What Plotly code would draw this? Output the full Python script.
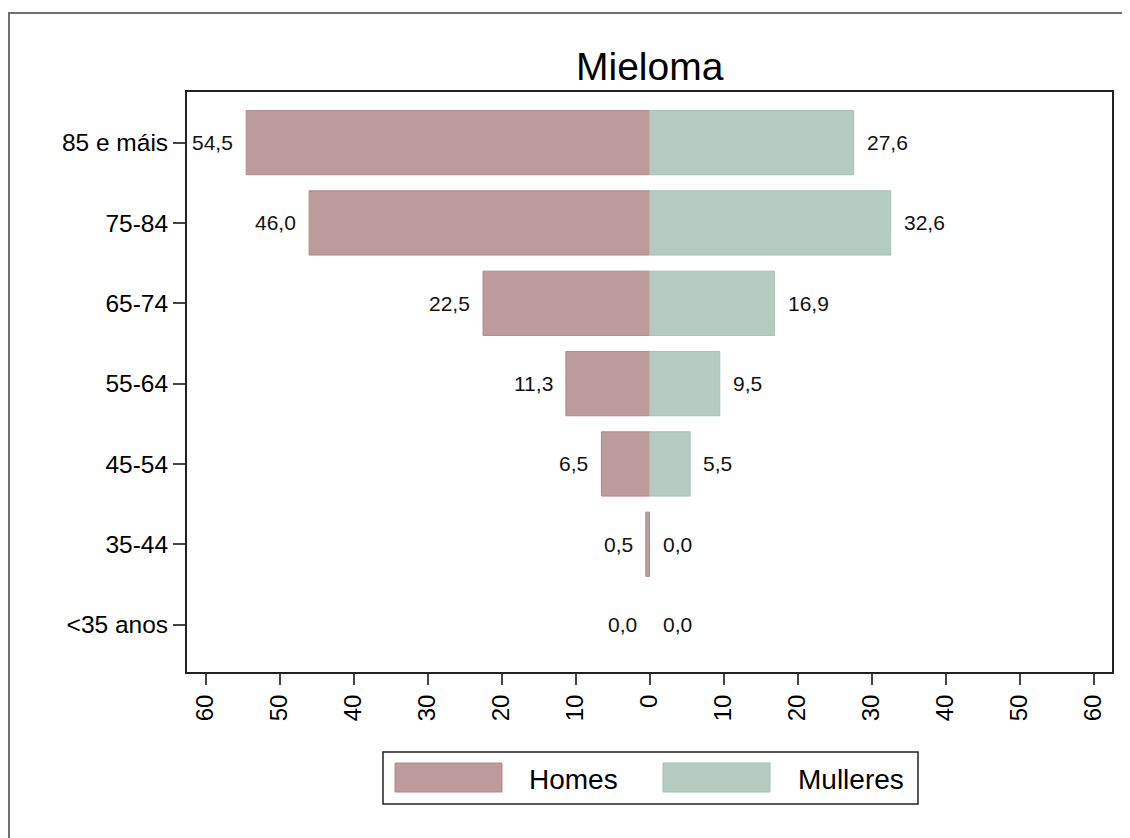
import plotly.graph_objects as go

# ---- data ----
age_groups = ["<35 anos", "35-44", "45-54", "55-64", "65-74", "75-84", "85 e máis"]
homes = [0.0, 0.5, 6.5, 11.3, 22.5, 46.0, 54.5]
mulleres = [0.0, 0.0, 5.5, 9.5, 16.9, 32.6, 27.6]
tick_values = [-60, -50, -40, -30, -20, -10, 0, 10, 20, 30, 40, 50, 60]
title_text = "Mieloma"
series_names = ["Homes", "Mulleres"]

# ---- style ----
OFF = 8  # page body margin
W, H = 1130 - OFF, 838 - OFF
# plot-area edges in page pixels
L, R, T, B = 187, 1112, 92, 672
FONT = "Liberation Sans, Arial, sans-serif"
C_H, C_H_LINE = "#BD9A9C", "#B08A8D"
C_M, C_M_LINE = "#B4CBC2", "#A7C0B5"


def px(x):
    return (x - L) / (R - L)


def py(y):
    return (B - y) / (B - T)


def fmt(v):
    return f"{v:.1f}".replace(".", ",")


fig = go.Figure()
fig.add_trace(go.Bar(
    y=age_groups, x=[-v for v in homes], orientation="h", name=series_names[0],
    marker=dict(color=C_H, line=dict(color=C_H_LINE, width=[1 if v > 0 else 0 for v in homes])),
    width=0.8,
    customdata=homes, hovertemplate="%{y}: %{customdata}<extra>Homes</extra>",
))
fig.add_trace(go.Bar(
    y=age_groups, x=mulleres, orientation="h", name=series_names[1],
    marker=dict(color=C_M, line=dict(color=C_M_LINE, width=[1 if v > 0 else 0 for v in mulleres])),
    width=0.8,
    hovertemplate="%{y}: %{x}<extra>Mulleres</extra>",
))

annotations = []
for cat, vh, vm in zip(age_groups, homes, mulleres):
    annotations.append(dict(x=-vh, y=cat, xref="x", yref="y", text=fmt(vh),
                            showarrow=False, xanchor="right", xshift=-11,
                            font=dict(family=FONT, size=21, color="#111")))
    annotations.append(dict(x=vm, y=cat, xref="x", yref="y", text=fmt(vm),
                            showarrow=False, xanchor="left", xshift=11,
                            font=dict(family=FONT, size=21, color="#111")))

# title
annotations.append(dict(x=0.5, y=py(66), xref="paper", yref="paper", text=title_text,
                        showarrow=False, xanchor="center", yanchor="middle",
                        font=dict(family=FONT, size=39, color="#000")))
# legend texts
annotations.append(dict(x=px(527), y=py(779), xref="paper", yref="paper", text=series_names[0],
                        showarrow=False, xanchor="left", yanchor="middle",
                        font=dict(family=FONT, size=28, color="#000")))
annotations.append(dict(x=px(796), y=py(779), xref="paper", yref="paper", text=series_names[1],
                        showarrow=False, xanchor="left", yanchor="middle",
                        font=dict(family=FONT, size=28, color="#000")))

shapes = [
    # outer frame
    dict(type="rect", xref="paper", yref="paper", x0=px(9), x1=px(1150), y0=py(860), y1=py(13),
         line=dict(color="#707070", width=2), fillcolor="rgba(0,0,0,0)", layer="below"),
    # legend box
    dict(type="rect", xref="paper", yref="paper", x0=px(383), x1=px(918), y0=py(804), y1=py(752),
         line=dict(color="#222", width=1.5), fillcolor="white"),
    dict(type="rect", xref="paper", yref="paper", x0=px(395), x1=px(502), y0=py(792), y1=py(763),
         line=dict(color=C_H_LINE, width=1), fillcolor=C_H),
    dict(type="rect", xref="paper", yref="paper", x0=px(663), x1=px(770), y0=py(792), y1=py(763),
         line=dict(color=C_M_LINE, width=1), fillcolor=C_M),
]

fig.update_layout(
    width=W, height=H,
    margin=dict(l=L - OFF, r=1130 - R, t=T - OFF, b=838 - B, pad=0),
    paper_bgcolor="white", plot_bgcolor="white",
    barmode="relative", bargap=0.2,
    showlegend=False,
    annotations=annotations, shapes=shapes,
    font=dict(family=FONT, color="#000"),
)
fig.update_xaxes(
    range=[-62.5, 62.5], tickvals=tick_values, ticktext=[str(abs(v)) for v in tick_values],
    tickangle=-90, ticks="outside", ticklen=11, tickwidth=2, tickcolor="#444",
    tickfont=dict(family=FONT, size=24, color="#000"),
    showgrid=False, zeroline=False, showline=True, linecolor="#222", linewidth=2, mirror=True,
)
fig.update_yaxes(
    type="category", categoryorder="array", categoryarray=age_groups, range=[-0.59, 6.63],
    ticks="outside", ticklen=12, tickwidth=2, tickcolor="#444",
    tickfont=dict(family=FONT, size=24.5, color="#000"),
    showgrid=False, zeroline=False, showline=True, linecolor="#222", linewidth=2, mirror=True,
)

fig.write_html("out.html")
